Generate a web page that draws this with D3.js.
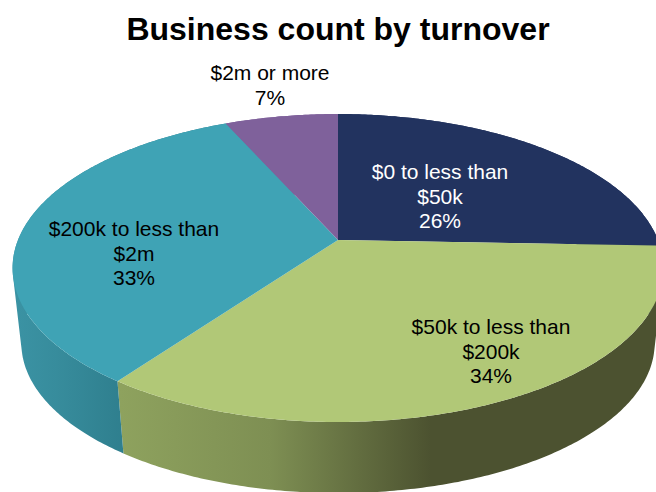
<!DOCTYPE html>
<html>
<head>
<meta charset="utf-8">
<script src="https://cdn.jsdelivr.net/npm/d3@7/dist/d3.min.js"></script>
<style>
html,body{margin:0;padding:0;background:#fff;overflow:hidden}
svg{display:block}
text{font-family:"Liberation Sans",Arial,sans-serif}
</style>
</head>
<body>
<script>
const chartTitle = "Business count by turnover";
const categories = ["$0 to less than $50k", "$50k to less than $200k", "$200k to less than $2m", "$2m or more"];
const shares = [25.6, 34.4, 33.3, 6.7];
const shareLabels = ["26%", "34%", "33%", "7%"];
const labelLines = [["$0 to less than", "$50k"], ["$50k to less than", "$200k"], ["$200k to less than", "$2m"], ["$2m or more"]];
const topColors = ["#22335f", "#b1c877", "#3fa3b5", "#7f619b"];
const labelColors = ["#ffffff", "#000000", "#000000", "#000000"];
const sideStops = [
  [["0", "#22335f"], ["1", "#22335f"]],
  [["0", "#8ea25e"], ["0.28", "#7e8f53"], ["0.58", "#4c5230"], ["1", "#4c5230"]],
  [["0", "#3b93a4"], ["0.4", "#378c9c"], ["1", "#2f7f8e"]],
  [["0", "#7f619b"], ["1", "#7f619b"]]
];
const sideExtent = [[338, 656], [120, 656], [13, 123], [228, 338]];
const labelAnchors = [[440, 179], [491, 334], [134, 236], [270, 80]];

const W = 656, H = 492;
const cx = 338, cy = 240, radius = 320, squash = 148.9, persp = 0.1818;
const shrink = 0.973, baseCy = 316;

const svg = d3.select("body").append("svg").attr("width", W).attr("height", H);
const defs = svg.append("defs");

const pie = d3.pie().sort(null).value(d => d).startAngle(0).endAngle(2 * Math.PI);
const arcs = pie(shares);

function topPoint(a) {
  const u = Math.sin(a), v = -Math.cos(a), w = 1 - persp * v;
  return [cx + radius * u / w, cy + squash * v / w];
}
function basePoint(a) {
  const p = topPoint(a);
  return [cx + (p[0] - cx) * shrink, baseCy + (p[1] - cy) * shrink];
}
function samples(a0, a1) {
  const n = Math.max(2, Math.ceil((a1 - a0) * 90));
  return d3.range(n + 1).map(i => a0 + (a1 - a0) * i / n);
}
const path = d3.line().curve(d3.curveLinear);

sideStops.forEach((stops, i) => {
  const g = defs.append("linearGradient").attr("id", "side" + i)
    .attr("gradientUnits", "userSpaceOnUse")
    .attr("x1", sideExtent[i][0]).attr("x2", sideExtent[i][1]).attr("y1", 0).attr("y2", 0);
  stops.forEach(s => g.append("stop").attr("offset", s[0]).attr("stop-color", s[1]));
});

// side walls: one consistently wound quad per sampled step, so the sweep past the
// silhouette tangent stays filled
function wallPath(d) {
  const s = samples(d.startAngle, d.endAngle);
  return d3.pairs(s).map(([a, b]) => {
    const q = [topPoint(a), topPoint(b), basePoint(b), basePoint(a)];
    if (d3.polygonArea(q) < 0) q.reverse();
    return path(q) + "Z";
  }).join("");
}
svg.append("g").selectAll("path").data(arcs).join("path")
  .attr("d", wallPath)
  .attr("fill", (d, i) => `url(#side${i})`);

// top face
svg.append("g").selectAll("path").data(arcs).join("path")
  .attr("d", d => {
    const s = samples(d.startAngle, d.endAngle);
    return path([[cx, cy]].concat(s.map(topPoint))) + "Z";
  })
  .attr("fill", (d, i) => topColors[i]);

// labels
const lineH = 24.6;
const lab = svg.append("g").attr("font-size", 21).attr("text-anchor", "middle");
categories.forEach((c, i) => {
  const t = lab.append("text").attr("fill", labelColors[i]);
  labelLines[i].concat([shareLabels[i]]).forEach((s, j) => {
    t.append("tspan").attr("x", labelAnchors[i][0]).attr("y", labelAnchors[i][1] + j * lineH).text(s);
  });
});

svg.append("text").attr("x", 338).attr("y", 40).attr("text-anchor", "middle")
  .attr("font-size", 32).attr("font-weight", "bold").attr("fill", "#000").text(chartTitle);
</script>
</body>
</html>
